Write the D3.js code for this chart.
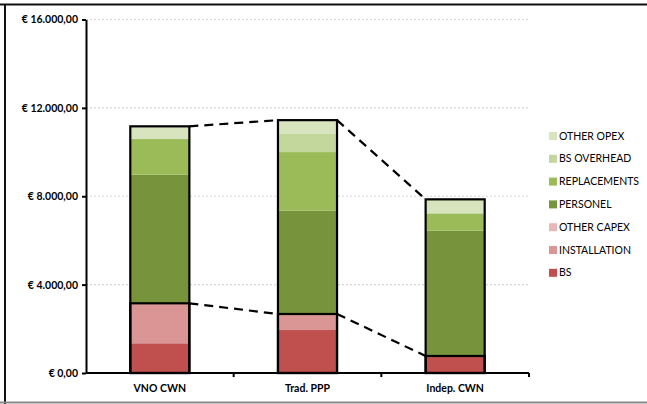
<!DOCTYPE html>
<html>
<head>
<meta charset="utf-8">
<script src="https://cdn.jsdelivr.net/npm/d3@7"></script>
<style>
  html, body { margin: 0; padding: 0; background: #fff; }
  svg { display: block; }
  text { font-family: Lato, "Open Sans", sans-serif; }
</style>
</head>
<body>
<svg id="chart" width="647" height="404"></svg>
<script>
// Cost build-up per network model (EUR)
const categories = ["VNO CWN", "Trad. PPP", "Indep. CWN"];
const seriesNames = ["BS", "INSTALLATION", "OTHER CAPEX", "PERSONEL", "REPLACEMENTS", "BS OVERHEAD", "OTHER OPEX"];
const bs           = [1345, 1945, 770];
const installation = [1810, 725, 0];
const otherCapex   = [0, 0, 0];
const personel     = [5820, 4675, 5670];
const replacements = [1615, 2655, 785];
const bsOverhead   = [0, 845, 0];
const otherOpex    = [575, 600, 635];
const seriesColors = ["#C0504D", "#D99694", "#E6B9B8", "#77933C", "#9BBB59", "#C3D69B", "#D7E4BD"];
const yTicks = [0, 4000, 8000, 12000, 16000];
const capexSeries = ["BS", "INSTALLATION", "OTHER CAPEX"];

const valuesBySeries = [bs, installation, otherCapex, personel, replacements, bsOverhead, otherOpex];
const rows = categories.map((c, i) => {
  const r = { category: c };
  seriesNames.forEach((s, k) => r[s] = valuesBySeries[k][i]);
  return r;
});

const svg = d3.select("#chart");
const W = 647, H = 404;
const plot = { left: 86, right: 529, top: 19.5, bottom: 373 };

// outer frame
svg.append("line").attr("x1", 0).attr("x2", W).attr("y1", 4.5).attr("y2", 4.5)
  .attr("stroke", "#111").attr("stroke-width", 2);
svg.append("line").attr("x1", 5).attr("x2", 5).attr("y1", 4).attr("y2", H)
  .attr("stroke", "#111").attr("stroke-width", 2);
svg.append("line").attr("x1", 0).attr("x2", W).attr("y1", 402.5).attr("y2", 402.5)
  .attr("stroke", "#888").attr("stroke-width", 2);

const x = d3.scaleBand().domain(categories).range([plot.left, plot.right]).paddingInner(0.6).paddingOuter(0.3);
const y = d3.scaleLinear().domain([0, 16000]).range([plot.bottom, plot.top]);

// dotted gridlines
svg.append("g").selectAll("line").data(yTicks.filter(t => t > 0)).join("line")
  .attr("x1", plot.left).attr("x2", plot.right)
  .attr("y1", d => y(d)).attr("y2", d => y(d))
  .attr("stroke", "#d6d6d6").attr("stroke-width", 1.2).attr("stroke-dasharray", "2,2");

const stack = d3.stack().keys(seriesNames);
const layers = stack(rows);
const color = d3.scaleOrdinal().domain(seriesNames).range(seriesColors);

svg.append("g").selectAll("g").data(layers).join("g")
  .attr("fill", d => color(d.key))
  .selectAll("rect").data(d => d).join("rect")
  .attr("x", d => x(d.data.category))
  .attr("width", x.bandwidth())
  .attr("y", d => y(d[1]))
  .attr("height", d => y(d[0]) - y(d[1]));

const totals = rows.map(r => d3.sum(seriesNames, s => r[s]));
const capexTotals = rows.map(r => d3.sum(capexSeries, s => r[s]));

// connector dashed lines between bars
const connectors = svg.append("g").attr("stroke", "#000").attr("stroke-width", 2.2)
  .attr("stroke-dasharray", "9,6").attr("fill", "none");
[totals, capexTotals].forEach(arr => {
  for (let i = 0; i < categories.length - 1; i++) {
    connectors.append("line")
      .attr("x1", x(categories[i]) + x.bandwidth()).attr("y1", y(arr[i]))
      .attr("x2", x(categories[i + 1])).attr("y2", y(arr[i + 1]));
  }
});

// bar outlines: total and capex part
const outlines = svg.append("g").attr("fill", "none").attr("stroke", "#000").attr("stroke-width", 2.2);
categories.forEach((c, i) => {
  outlines.append("rect").attr("x", x(c)).attr("width", x.bandwidth())
    .attr("y", y(totals[i])).attr("height", y(0) - y(totals[i]));
  outlines.append("rect").attr("x", x(c)).attr("width", x.bandwidth())
    .attr("y", y(capexTotals[i])).attr("height", y(0) - y(capexTotals[i]));
});

// y axis
const fmt = v => "€ " + d3.format(",.2f")(v).replace(/,/g, "#").replace(/\./g, ",").replace(/#/g, ".");
const yAxis = svg.append("g").attr("transform", `translate(${plot.left},0)`)
  .call(d3.axisLeft(y).tickValues(yTicks).tickSize(4).tickSizeOuter(0).tickFormat(fmt));
yAxis.select(".domain").attr("stroke", "#000").attr("stroke-width", 2);
yAxis.selectAll(".tick line").attr("stroke", "#000").attr("stroke-width", 2);
yAxis.selectAll("text").attr("x", -8).attr("font-size", 10.5).attr("font-weight", "bold")
  .attr("fill", "#000").style("font-family", "Lato, sans-serif");

// x axis with ticks at category boundaries
const bounds = categories.map((c, i) => plot.left + (i + 1) * (plot.right - plot.left) / categories.length);
const xg = svg.append("g");
xg.append("line").attr("x1", plot.left).attr("x2", plot.right)
  .attr("y1", plot.bottom).attr("y2", plot.bottom).attr("stroke", "#000").attr("stroke-width", 2);
xg.selectAll("line.tk").data(bounds).join("line").attr("class", "tk")
  .attr("x1", d => d).attr("x2", d => d).attr("y1", plot.bottom).attr("y2", plot.bottom + 4)
  .attr("stroke", "#000").attr("stroke-width", 2);
xg.selectAll("text").data(categories).join("text")
  .attr("x", d => x(d) + x.bandwidth() / 2).attr("y", 392)
  .attr("text-anchor", "middle").attr("font-size", 10.5).attr("font-weight", "bold")
  .text(d => d);

// legend, top item is last series
const legend = svg.append("g");
const legendItems = seriesNames.slice().reverse();
legendItems.forEach((s, i) => {
  const cy = 136 + i * 22.8;
  legend.append("rect").attr("x", 549).attr("y", cy - 4).attr("width", 8).attr("height", 8).attr("fill", color(s));
  legend.append("text").attr("x", 559).attr("y", cy + 3.5).attr("font-size", 10.5).attr("fill", "#000").text(s);
});
</script>
</body>
</html>
